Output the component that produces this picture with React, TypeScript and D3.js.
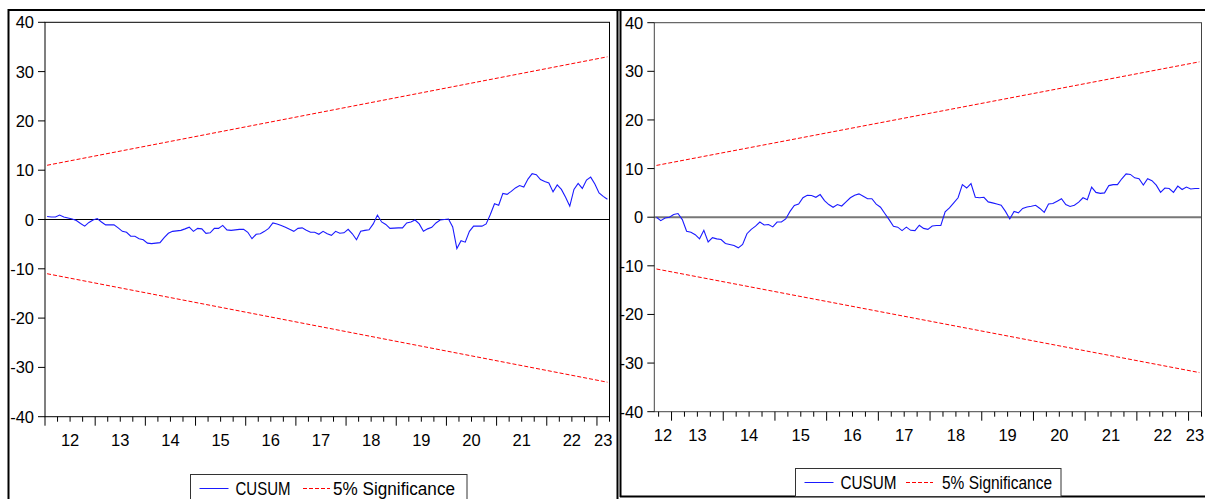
import React from "react";
import * as d3 from "d3";

// CUSUM readings, monthly. Left panel starts 2012M01, right panel 2012M09
const cusumLeft = [
  0.6, 0.5, 0.5, 0.9, 0.5, 0.3, 0.1, -0.2, -0.8, -1.35,
  -0.6, -0.1, 0.2, -0.5, -1.1, -1.1, -1.1, -1.7, -2.4, -2.6,
  -3.4, -3.4, -3.9, -4.1, -4.8, -4.9, -4.8, -4.7, -3.7, -2.8,
  -2.4, -2.3, -2.2, -1.9, -1.55, -2.4, -1.8, -1.9, -2.8, -2.7,
  -1.8, -1.8, -1.2, -2.1, -2.2, -2.1, -2.0, -2.0, -2.6, -3.9,
  -3.0, -2.9, -2.4, -1.8, -0.7, -0.9, -1.2, -1.55, -2.0, -2.4,
  -1.8, -1.7, -2.2, -2.6, -2.6, -3.0, -2.4, -2.9, -3.2, -2.4,
  -2.8, -2.7, -2.0, -2.9, -4.1, -2.4, -2.2, -2.1, -0.9, 0.9,
  -0.5, -1.0, -1.8, -1.75, -1.7, -1.7, -0.7, -0.5, -0.1, -0.9,
  -2.4, -1.9, -1.6, -0.7, -0.1, 0.0, 0.1, -1.5, -5.9, -4.3,
  -4.6, -2.4, -1.35, -1.35, -1.35, -0.9, 1.0, 3.2, 2.9, 5.3,
  5.1, 5.7, 6.4, 6.9, 6.6, 8.2, 9.3, 9.1, 8.1, 7.7,
  7.4, 5.6, 7.0, 6.1, 4.5, 2.7, 6.1, 7.3, 6.3, 8.0,
  8.6, 7.2, 5.4, 4.7, 4.1,
];

const cusumRight = [
  0.0, -0.7, -0.15, 0.0, 0.55, 0.75, -0.5, -2.9, -3.1, -3.6,
  -4.45, -2.7, -5.1, -4.2, -4.45, -4.6, -5.4, -5.6, -5.8, -6.3,
  -5.6, -3.4, -2.5, -1.85, -1.0, -1.6, -1.5, -2.0, -1.0, -1.0,
  -0.35, 1.2, 2.4, 2.7, 4.0, 4.5, 4.45, 4.1, 4.65, 3.4,
  2.6, 2.05, 2.6, 2.3, 3.15, 4.0, 4.5, 4.8, 4.3, 3.8,
  3.8, 2.7, 2.05, 0.75, -0.5, -1.85, -2.05, -2.75, -2.05, -2.7,
  -2.75, -1.65, -2.3, -2.5, -1.8, -1.7, -1.7, 1.1, 1.9, 2.95,
  4.0, 6.7, 6.0, 6.9, 4.1, 4.0, 4.1, 3.15, 2.95, 2.7,
  2.45, 1.2, -0.35, 1.2, 0.9, 1.8, 2.1, 2.25, 2.45, 1.8,
  1.0, 2.7, 2.8, 3.3, 3.8, 2.6, 2.2, 2.45, 3.1, 4.0,
  3.6, 6.2, 5.1, 4.9, 5.0, 6.5, 6.7, 6.7, 7.9, 8.9,
  8.8, 8.1, 7.9, 6.6, 7.9, 7.5, 6.6, 5.1, 6.0, 5.9,
  5.1, 6.4, 5.7, 6.2, 5.8, 5.9, 5.9,
];

// 5% significance bound at first and last observation
const boundLeft = [11, 33];
const boundRight = [10.65, 31.95];

const yTicks = [40, 30, 20, 10, 0, -10, -20, -30, -40];
const years = [2012, 2013, 2014, 2015, 2016, 2017, 2018, 2019, 2020, 2021, 2022, 2023];
const yearLabels = ["12", "13", "14", "15", "16", "17", "18", "19", "20", "21", "22", "23"];
const legendNames = ["CUSUM", "5% Significance"];

const FONT = "'Liberation Sans', Arial, sans-serif";

type PanelProps = {
  data: number[];
  bound: number[];
  startMonth: number; // 0 = January 2012
  left: number;
  right: number;
  top: number;
  bottom: number;
  frameColor: string;
  zeroColor: string;
  zeroWidth: number;
  legend: { x: number; y: number; w: number; h: number; dashX: number; textX: number; w1: number; w2: number };
};

function Panel(p: PanelProps) {
  const n = p.data.length;
  const x = d3.scaleLinear().domain([0, n]).range([p.left, p.right]);
  const y = d3.scaleLinear().domain([-40, 40]).range([p.bottom, p.top]);

  const line = d3
    .line<number>()
    .x((_, i) => x(i + 0.5))
    .y((d) => y(d));

  const upper = [p.bound[0], p.bound[1]];
  const lower = [-p.bound[0], -p.bound[1]];
  const bx = [x(0.5), x(n - 0.5)];

  // month ticks: year starts are major, quarter starts are minor
  const ticks: { m: number; major: boolean }[] = [];
  for (let m = 0; m <= n; m++) {
    const c = (p.startMonth + m) % 12;
    if (c === 0) ticks.push({ m, major: true });
    else if (c % 3 === 0) ticks.push({ m, major: false });
  }

  const labels = years.map((yr, i) => {
    const s = Math.max(0, (yr - 2012) * 12 - p.startMonth);
    const e = Math.min(n, s + 12 - (s === 0 ? p.startMonth % 12 : 0));
    return { text: yearLabels[i], cx: x((s + e) / 2) };
  });

  const lg = p.legend;
  const midY = lg.y + 14;

  return (
    <g>
      {/* zero line */}
      <line x1={p.left} x2={p.right} y1={y(0)} y2={y(0)} stroke={p.zeroColor} strokeWidth={p.zeroWidth} />
      {/* bounds */}
      <line x1={bx[0]} x2={bx[1]} y1={y(upper[0])} y2={y(upper[1])} stroke="#ff0000" strokeWidth={1} strokeDasharray="4,2" />
      <line x1={bx[0]} x2={bx[1]} y1={y(lower[0])} y2={y(lower[1])} stroke="#ff0000" strokeWidth={1} strokeDasharray="4,2" />
      {/* cusum */}
      <path d={line(p.data) || ""} fill="none" stroke="#1a1aff" strokeWidth={1.1} />
      {/* plot box */}
      <rect x={p.left} y={p.top} width={p.right - p.left} height={p.bottom - p.top} fill="none" stroke={p.frameColor} strokeWidth={1} />
      {/* y axis */}
      {yTicks.map((t) => (
        <g key={t}>
          <line x1={p.left - 7} x2={p.left} y1={y(t)} y2={y(t)} stroke="#000" />
          <text x={p.left - 11} y={y(t) + 6} textAnchor="end" fontFamily={FONT} fontSize={16.5} fill="#000">
            {t}
          </text>
        </g>
      ))}
      {/* x axis */}
      {ticks.map((t) => (
        <line key={t.m} x1={x(t.m)} x2={x(t.m)} y1={p.bottom} y2={p.bottom + (t.major ? 9 : 5)} stroke="#000" />
      ))}
      {labels.map((l) => (
        <text key={l.text} x={l.cx} y={p.bottom + 29} textAnchor="middle" fontFamily={FONT} fontSize={16.5} fill="#000">
          {l.text}
        </text>
      ))}
      {/* legend */}
      <rect x={lg.x} y={lg.y} width={lg.w} height={lg.h} fill="#fff" stroke="#333" strokeWidth={1} />
      <line x1={lg.x + 9} x2={lg.x + 38} y1={midY} y2={midY} stroke="#1a1aff" />
      <text x={lg.x + 45} y={midY + 6} fontFamily={FONT} fontSize={17.5} fill="#000" textLength={lg.w1} lengthAdjust="spacingAndGlyphs">
        {legendNames[0]}
      </text>
      <line x1={lg.dashX} x2={lg.dashX + 27} y1={midY} y2={midY} stroke="#ff0000" strokeDasharray="4,2" />
      <text x={lg.textX} y={midY + 6} fontFamily={FONT} fontSize={17.5} fill="#000" textLength={lg.w2} lengthAdjust="spacingAndGlyphs">
        {legendNames[1]}
      </text>
    </g>
  );
}

export default function App() {
  return (
    <svg
      width={1205}
      height={499}
      style={{ position: "absolute", left: 0, top: 0, background: "#fff" }}
    >
      <rect x={0} y={0} width={1205} height={499} fill="#fff" />
      {/* outer frames */}
      <line x1={8} x2={1205} y1={10} y2={10} stroke="#000" strokeWidth={2} />
      <line x1={8.5} x2={8.5} y1={9} y2={499} stroke="#000" strokeWidth={2} />
      <line x1={617.5} x2={617.5} y1={9} y2={499} stroke="#000" strokeWidth={2} />
      <line x1={620.5} x2={620.5} y1={9} y2={497} stroke="#000" strokeWidth={2} />
      <line x1={620} x2={1205} y1={496.5} y2={496.5} stroke="#000" strokeWidth={2} />
      <Panel
        data={cusumLeft}
        bound={boundLeft}
        startMonth={0}
        left={45}
        right={609.5}
        top={22.3}
        bottom={416.7}
        frameColor="#000"
        zeroColor="#000"
        zeroWidth={1}
        legend={{ x: 190.5, y: 474.5, w: 276.5, h: 30, dashX: 303, textX: 333, w1: 55, w2: 122 }}
      />
      <Panel
        data={cusumRight}
        bound={boundRight}
        startMonth={8}
        left={654.3}
        right={1201.5}
        top={22.7}
        bottom={411.7}
        frameColor="#444"
        zeroColor="#777"
        zeroWidth={2}
        legend={{ x: 795.5, y: 468.5, w: 265.5, h: 28, dashX: 906, textX: 942, w1: 56, w2: 110 }}
      />
    </svg>
  );
}
